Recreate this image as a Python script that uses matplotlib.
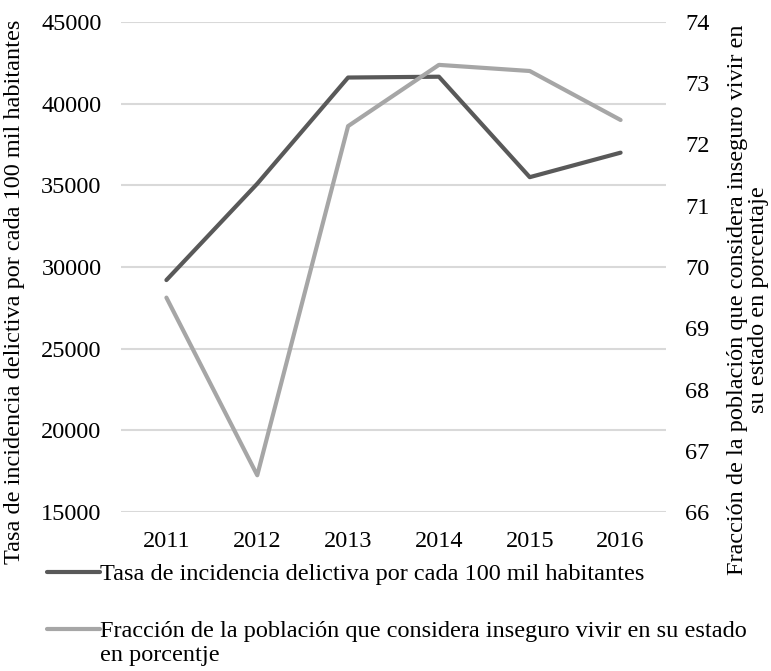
import matplotlib
matplotlib.use("Agg")
import matplotlib.pyplot as plt

years = ["2011", "2012", "2013", "2014", "2015", "2016"]
tasa = [29200, 35100, 41600, 41650, 35500, 37000]
fraccion = [69.5, 66.6, 72.3, 73.3, 73.2, 72.4]

left_ticks = [15000, 20000, 25000, 30000, 35000, 40000, 45000]
right_ticks = [66, 67, 68, 69, 70, 71, 72, 73, 74]

plt.rcParams['font.family'] = ['Liberation Serif', 'DejaVu Serif']
fs = 17.5

fig = plt.figure(figsize=(7.71, 6.71), dpi=100)
ax = fig.add_axes([121 / 771, 1 - 512 / 671, 545 / 771, 490 / 671])
ax2 = ax.twinx()

x = range(len(years))
l1, = ax.plot(x, tasa, color='#595959', lw=3, solid_capstyle='round', zorder=3)
l2, = ax2.plot(x, fraccion, color='#a6a6a6', lw=3, solid_capstyle='round', zorder=3)

ax.set_xlim(-0.5, len(years) - 0.5)
ax.set_ylim(15000, 45000)
ax.set_yticks(left_ticks)
ax2.set_ylim(66, 74)
ax2.set_yticks(right_ticks)
ax.set_xticks(list(x))
ax.set_xticklabels(years)

ax.grid(axis='y', color='#d9d9d9', lw=1.5)
ax.set_axisbelow(True)
for a in (ax, ax2):
    for s in a.spines.values():
        s.set_visible(False)
    a.tick_params(length=0, labelsize=fs, colors='black')
ax.tick_params(axis='y', pad=14)
ax.tick_params(axis='x', pad=14)
ax2.tick_params(axis='y', pad=14)

fig.text(15 / 771, 1 - 292 / 671, "Tasa de incidencia delictiva por cada 100 mil habitantes",
         rotation=90, ha='center', va='center', fontsize=fs)
fig.text(748 / 771, 1 - 300 / 671,
         "Fracción de la población que considera inseguro vivir en\nsu estado en porcentaje",
         rotation=90, ha='center', va='center', fontsize=fs, multialignment='center',
         linespacing=1.0)

leg = fig.legend([l1, l2],
                 ["Tasa de incidencia delictiva por cada 100 mil habitantes",
                  "Fracción de la población que considera inseguro vivir en su estado"],
                 loc='upper left', bbox_to_anchor=(47 / 771, 1 - 563 / 671),
                 frameon=False, fontsize=fs, handlelength=2.2, handletextpad=0.0,
                 labelspacing=1.45, borderpad=0, borderaxespad=0)

# wrapped continuation of the second legend entry
fig.canvas.draw()
bb = leg.get_texts()[1].get_window_extent()
fig.text(bb.x0 / 771, (bb.y0 - 3) / 671, "en porcentje", fontsize=fs, ha='left', va='top')

fig.savefig("out.png", dpi=100)
